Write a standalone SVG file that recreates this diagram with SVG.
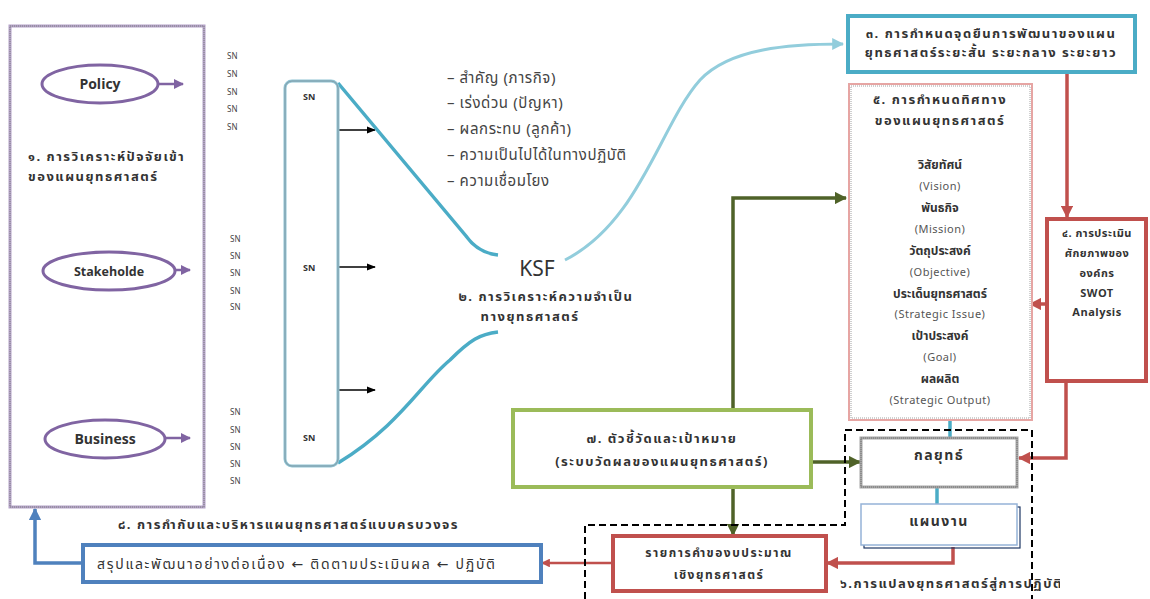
<svg xmlns="http://www.w3.org/2000/svg" width="1150" height="599" viewBox="0 0 1150 599">
<style>
text{font-family:"Noto Sans Thai","Noto Sans","DejaVu Sans","Liberation Sans",sans-serif;fill:#333}
.b{font-weight:bold;font-size:13px;letter-spacing:1.5px}
.sn{font-size:8px;fill:#444}
.snb{font-size:9px;font-weight:bold;fill:#333}
.bul{font-size:15px;fill:#444;letter-spacing:0.6px}
.c{text-anchor:middle}
.en{font-size:11px;fill:#555;letter-spacing:0.5px}
.th{font-size:12px;font-weight:bold}
.tb{font-size:14px;font-weight:bold;letter-spacing:1.5px}
.ell{fill:#fff;stroke:#8064a2;stroke-width:3}
.pa{stroke:#8064a2;stroke-width:2.5;fill:none}
.ka{stroke:#000;stroke-width:1.3;fill:none}
.dg{stroke:#4f6228;stroke-width:3.5;fill:none}
.rd{stroke:#c0504d;stroke-width:3.5;fill:none}
.tl{stroke:#4bacc6;stroke-width:3.5;fill:none}
</style>
<defs>
<marker id="mp" viewBox="0 0 10 10" refX="9" refY="5" markerWidth="4" markerHeight="4" orient="auto"><path d="M0,0 L10,5 L0,10z" fill="#8064a2"/></marker>
<marker id="mk" viewBox="0 0 10 10" refX="9" refY="5" markerWidth="7" markerHeight="7" orient="auto"><path d="M0,1 L10,5 L0,9z" fill="#000"/></marker>
<marker id="mg" viewBox="0 0 10 10" refX="9" refY="5" markerWidth="3.5" markerHeight="3.5" orient="auto"><path d="M0,0 L10,5 L0,10z" fill="#4f6228"/></marker>
<marker id="mr" viewBox="0 0 10 10" refX="9" refY="5" markerWidth="3.5" markerHeight="3.5" orient="auto"><path d="M0,0 L10,5 L0,10z" fill="#c0504d"/></marker>
<marker id="mlb" viewBox="0 0 10 10" refX="9" refY="5" markerWidth="4" markerHeight="4" orient="auto"><path d="M0,0 L10,5 L0,10z" fill="#92cddc"/></marker>
<marker id="mb" viewBox="0 0 10 10" refX="9" refY="5" markerWidth="3.5" markerHeight="3.5" orient="auto"><path d="M0,0 L10,5 L0,10z" fill="#4f81bd"/></marker>
<clipPath id="clip6"><rect x="0" y="0" width="1060" height="599"/></clipPath>
</defs>
<rect width="1150" height="599" fill="#fff"/>

<g id="connectors">
<path class="pa" d="M159,84 H183" marker-end="url(#mp)"/>
<path class="pa" d="M175,270 H190" marker-end="url(#mp)"/>
<path class="pa" d="M165,438 H190" marker-end="url(#mp)"/>
<path class="ka" d="M338,130 H375" marker-end="url(#mk)"/>
<path class="ka" d="M338,267 H375" marker-end="url(#mk)"/>
<path class="ka" d="M338,390 H375" marker-end="url(#mk)"/>
<path class="tl" d="M338,83 L466,236 Q478,253 498,255"/>
<path class="tl" d="M338,463 C400,425 420,385 450,360 C470,340 480,334 498,332"/>
<path d="M565,260 C640,222 660,125 700,80 C730,48 790,44 843,44" stroke="#92cddc" stroke-width="3" fill="none" marker-end="url(#mlb)"/>
<path class="rd" d="M1067,72 V217" marker-end="url(#mr)"/>
<path class="rd" d="M1046,304 H1030" marker-end="url(#mr)"/>
<path class="rd" d="M1066,382 V458 H1019" marker-end="url(#mr)"/>
<path class="tl" d="M950,420 V438"/>
<path class="tl" d="M937,487 V505"/>
<path class="rd" d="M953,547 V563 H827" marker-end="url(#mr)"/>
<path class="dg" d="M733,410 V198 H846" marker-end="url(#mg)"/>
<path class="dg" d="M811,462 H860" marker-end="url(#mg)"/>
<path class="dg" d="M733,487 V535" marker-end="url(#mg)"/>
<path d="M612,563 H542" stroke="#c0504d" stroke-width="2.5" fill="none" marker-end="url(#mr)"/>
<path d="M83,563 H35 V509" stroke="#4f81bd" stroke-width="3.5" fill="none" marker-end="url(#mb)"/>
<path d="M585,599 V525 H845 V430 H1032 V599" stroke="#000" stroke-width="2" stroke-dasharray="7,4" fill="none"/>
</g>

<g id="n1">
<rect x="10" y="26" width="194" height="481" fill="none" stroke="#b3a2c7" stroke-width="3"/>
<rect x="10" y="26" width="194" height="481" fill="none" stroke="#7f7f7f" stroke-width="1" stroke-dasharray="1,1"/>
<text class="b" x="28" y="161">๑. การวิเคราะห์ปัจจัยเข้า</text>
<text class="b" x="28" y="181">ของแผนยุทธศาสตร์</text>
</g>
<g id="policy"><ellipse class="ell" cx="100" cy="84" rx="58" ry="19"/><text class="c" x="100" y="89" font-size="14" font-weight="bold">Policy</text></g>
<g id="stakeholder"><ellipse class="ell" cx="109" cy="271" rx="66" ry="19"/><text class="c" x="109" y="276" font-size="12.5" font-weight="bold">Stakeholde</text></g>
<g id="business"><ellipse class="ell" cx="105" cy="439" rx="60" ry="19"/><text class="c" x="105" y="444" font-size="14" font-weight="bold">Business</text></g>

<g id="snlist">
<text class="sn" x="227" y="59">SN</text><text class="sn" x="227" y="77">SN</text><text class="sn" x="227" y="95">SN</text><text class="sn" x="227" y="112">SN</text><text class="sn" x="227" y="130">SN</text>
<text class="sn" x="230" y="242">SN</text><text class="sn" x="230" y="259">SN</text><text class="sn" x="230" y="276">SN</text><text class="sn" x="230" y="294">SN</text><text class="sn" x="230" y="310">SN</text>
<text class="sn" x="230" y="415">SN</text><text class="sn" x="230" y="433">SN</text><text class="sn" x="230" y="450">SN</text><text class="sn" x="230" y="467">SN</text><text class="sn" x="230" y="484">SN</text>
</g>

<g id="n2">
<rect x="285" y="81" width="53" height="385" rx="7" fill="none" stroke="#8fc4d4" stroke-width="3"/>
<rect x="285" y="81" width="53" height="385" rx="7" fill="none" stroke="#7f8f99" stroke-width="0.8"/>
<text class="snb" x="303" y="100">SN</text>
<text class="snb" x="303" y="271">SN</text>
<text class="snb" x="303" y="441">SN</text>
</g>

<g id="bullets">
<text class="bul" x="447" y="83">– สำคัญ (ภารกิจ)</text>
<text class="bul" x="447" y="108">– เร่งด่วน (ปัญหา)</text>
<text class="bul" x="447" y="134">– ผลกระทบ (ลูกค้า)</text>
<text class="bul" x="447" y="160">– ความเป็นไปได้ในทางปฏิบัติ</text>
<text class="bul" x="447" y="186">– ความเชื่อมโยง</text>
</g>

<g id="ksf">
<text class="c" x="537" y="276" font-size="21" fill="#222">KSF</text>
<text class="b c" x="546" y="301">๒. การวิเคราะห์ความจำเป็น</text>
<text class="b c" x="530" y="321">ทางยุทธศาสตร์</text>
</g>

<g id="n3">
<rect x="848" y="16" width="287" height="56" fill="#fff" stroke="#4bacc6" stroke-width="4"/>
<text class="b c" x="991" y="38">๓. การกำหนดจุดยืนการพัฒนาของแผน</text>
<text class="b c" x="991" y="57">ยุทธศาสตร์ระยะสั้น ระยะกลาง ระยะยาว</text>
</g>

<g id="n5">
<rect x="849" y="84" width="183" height="336" fill="#fff" stroke="#e6a5a3" stroke-width="2"/>
<rect x="851" y="86" width="179" height="332" fill="none" stroke="#888" stroke-width="0.8" stroke-dasharray="1,1"/>
<text class="b c" x="940" y="104">๕. การกำหนดทิศทาง</text>
<text class="b c" x="940" y="125">ของแผนยุทธศาสตร์</text>
<text class="th c" x="940" y="169">วิสัยทัศน์</text>
<text class="en c" x="940" y="190">(Vision)</text>
<text class="th c" x="940" y="212">พันธกิจ</text>
<text class="en c" x="940" y="233">(Mission)</text>
<text class="th c" x="940" y="255">วัตถุประสงค์</text>
<text class="en c" x="940" y="276">(Objective)</text>
<text class="th c" x="940" y="298">ประเด็นยุทธศาสตร์</text>
<text class="en c" x="940" y="318">(Strategic Issue)</text>
<text class="th c" x="940" y="340">เป้าประสงค์</text>
<text class="en c" x="940" y="361">(Goal)</text>
<text class="th c" x="940" y="383">ผลผลิต</text>
<text class="en c" x="940" y="404">(Strategic Output)</text>
</g>

<g id="n4">
<rect x="1047" y="219" width="99" height="162" fill="#fff" stroke="#c0504d" stroke-width="4"/>
<g font-size="11" font-weight="bold" letter-spacing="0.5">
<text class="c" x="1097" y="237">๔. การประเมิน</text>
<text class="c" x="1097" y="257">ศักยภาพของ</text>
<text class="c" x="1097" y="277">องค์กร</text>
<text class="c" x="1097" y="297">SWOT</text>
<text class="c" x="1097" y="316">Analysis</text>
</g>
</g>

<g id="strategy">
<rect x="861" y="438" width="156" height="49" fill="#fff" stroke="#a6a6a6" stroke-width="3"/>
<rect x="861" y="438" width="156" height="49" fill="none" stroke="#666" stroke-width="0.8" stroke-dasharray="1,1"/>
<text class="tb c" x="939" y="460">กลยุทธ์</text>
</g>

<g id="plan">
<rect x="864" y="507" width="156" height="41" fill="none" stroke="#1f3864" stroke-width="1.2"/>
<rect x="861" y="504" width="156" height="41" fill="#fff" stroke="#95b3d7" stroke-width="1.5"/>
<text class="tb c" x="939" y="526">แผนงาน</text>
</g>
<text class="b" x="840" y="588" clip-path="url(#clip6)">๖.การแปลงยุทธศาสตร์สู่การปฏิบัติ</text>

<g id="n7">
<rect x="513" y="410" width="298" height="77" fill="#fff" stroke="#9bbb59" stroke-width="4"/>
<text class="b c" x="662" y="443" letter-spacing="0.8">๗. ตัวชี้วัดและเป้าหมาย</text>
<text class="b c" x="662" y="466">(ระบบวัดผลของแผนยุทธศาสตร์)</text>
</g>

<g id="budget">
<rect x="613" y="536" width="213" height="55" fill="#fff" stroke="#c0504d" stroke-width="4"/>
<text class="c" x="719" y="557" font-size="12" font-weight="bold" letter-spacing="1.5">รายการคำของบประมาณ</text>
<text class="c" x="719" y="579" font-size="12" font-weight="bold" letter-spacing="1.5">เชิงยุทธศาสตร์</text>
</g>

<g id="n8">
<text class="b" x="118" y="529" letter-spacing="1.9">๘. การกำกับและบริหารแผนยุทธศาสตร์แบบครบวงจร</text>
<rect x="83" y="545" width="458" height="37" fill="#fff" stroke="#4f81bd" stroke-width="4"/>
<text x="97" y="569" font-size="14" fill="#444" letter-spacing="1.7">สรุปและพัฒนาอย่างต่อเนื่อง ← ติดตามประเมินผล ← ปฏิบัติ</text>
</g>
</svg>
